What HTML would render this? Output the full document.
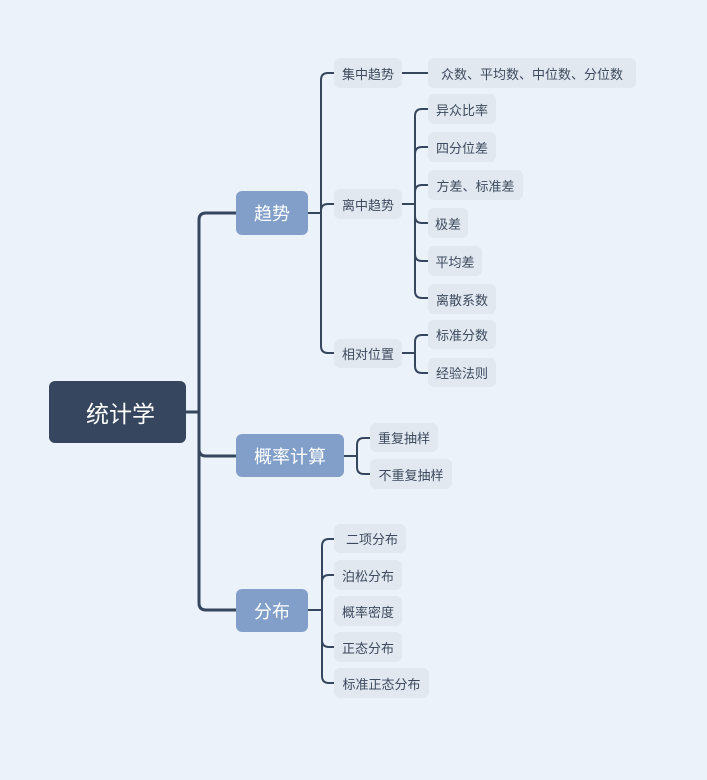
<!DOCTYPE html>
<html><head><meta charset="utf-8">
<style>
html,body{margin:0;padding:0;}
body{width:707px;height:780px;background:#ecf2f9;position:relative;overflow:hidden;font-family:"Liberation Sans","Noto Sans CJK SC",sans-serif;}
.n{position:absolute;box-sizing:border-box;display:flex;align-items:center;justify-content:center;white-space:nowrap;}
.root{background:#35465e;color:#fff;font-size:23px;border-radius:6px;}
.p{background:#819fc9;color:#fff;font-size:18px;border-radius:6px;}
.s{background:#e1e8f0;color:#3d4a5d;font-size:13px;border-radius:6px;}
svg{position:absolute;left:0;top:0;}
</style></head><body>
<svg width="707" height="780" fill="none" stroke="#35465e" stroke-linecap="round">
  <!-- main connectors -->
  <g stroke-width="3">
    <path d="M186,412 H199"/>
    <path d="M236,213 H206 Q199,213 199,220 V603 Q199,610 206,610 H236"/>
    <path d="M199,449 Q199,456 206,456 H236"/>
  </g>
  <g stroke-width="2">
    <!-- 趋势 -->
    <path d="M308,213 H321"/>
    <path d="M334,73 H328 Q321,73 321,80 V346 Q321,353 328,353 H334"/>
    <path d="M321,211 Q321,204 328,204 H334"/>
    <!-- 集中 -->
    <path d="M401,73 H428"/>
    <!-- 离中 -->
    <path d="M402,204 H415"/>
    <path d="M428,109 H422 Q415,109 415,116 V291 Q415,298 422,298 H428"/>
    <path d="M415,154 Q415,147 422,147 H428"/>
    <path d="M415,192 Q415,185 422,185 H428"/>
    <path d="M415,216 Q415,223 422,223 H428"/>
    <path d="M415,254 Q415,261 422,261 H428"/>
    <!-- 相对位置 -->
    <path d="M402,353 H415"/>
    <path d="M428,335 H422 Q415,335 415,342 V366 Q415,373 422,373 H428"/>
    <!-- 概率计算 -->
    <path d="M344,456 H357"/>
    <path d="M370,438 H364 Q357,438 357,445 V467 Q357,474 364,474 H370"/>
    <!-- 分布 -->
    <path d="M308,610 H322"/>
    <path d="M334,539 H329 Q322,539 322,546 V676 Q322,683 329,683 H334"/>
    <path d="M322,582 Q322,575 329,575 H334"/>
    <path d="M322,640 Q322,647 329,647 H334"/>
  </g>
</svg>

<div class="n root" style="left:49px;top:381px;width:137px;height:62px;padding-left:6px;">统计学</div>

<div class="n p" style="left:236px;top:191px;width:72px;height:44px;">趋势</div>
<div class="n p" style="left:236px;top:434px;width:108px;height:43px;">概率计算</div>
<div class="n p" style="left:236px;top:589px;width:72px;height:43px;">分布</div>

<div class="n s" style="left:334px;top:58px;width:68px;height:30px;">集中趋势</div>
<div class="n s" style="left:428px;top:58px;width:208px;height:30px;">众数、平均数、中位数、分位数</div>
<div class="n s" style="left:334px;top:189px;width:68px;height:30px;">离中趋势</div>
<div class="n s" style="left:428px;top:94px;width:68px;height:30px;">异众比率</div>
<div class="n s" style="left:428px;top:132px;width:68px;height:30px;">四分位差</div>
<div class="n s" style="left:428px;top:170px;width:95px;height:30px;">方差、标准差</div>
<div class="n s" style="left:428px;top:208px;width:40px;height:30px;">极差</div>
<div class="n s" style="left:428px;top:246px;width:54px;height:30px;">平均差</div>
<div class="n s" style="left:428px;top:284px;width:68px;height:30px;">离散系数</div>
<div class="n s" style="left:334px;top:339px;width:68px;height:29px;">相对位置</div>
<div class="n s" style="left:428px;top:320px;width:68px;height:29px;">标准分数</div>
<div class="n s" style="left:428px;top:358px;width:68px;height:29px;">经验法则</div>

<div class="n s" style="left:370px;top:423px;width:68px;height:29px;">重复抽样</div>
<div class="n s" style="left:370px;top:459px;width:82px;height:30px;">不重复抽样</div>

<div class="n s" style="left:334px;top:524px;width:72px;height:29px;padding-left:4px;">二项分布</div>
<div class="n s" style="left:334px;top:560px;width:68px;height:30px;">泊松分布</div>
<div class="n s" style="left:334px;top:596px;width:68px;height:30px;">概率密度</div>
<div class="n s" style="left:334px;top:632px;width:68px;height:30px;">正态分布</div>
<div class="n s" style="left:334px;top:668px;width:95px;height:30px;">标准正态分布</div>
</body></html>
